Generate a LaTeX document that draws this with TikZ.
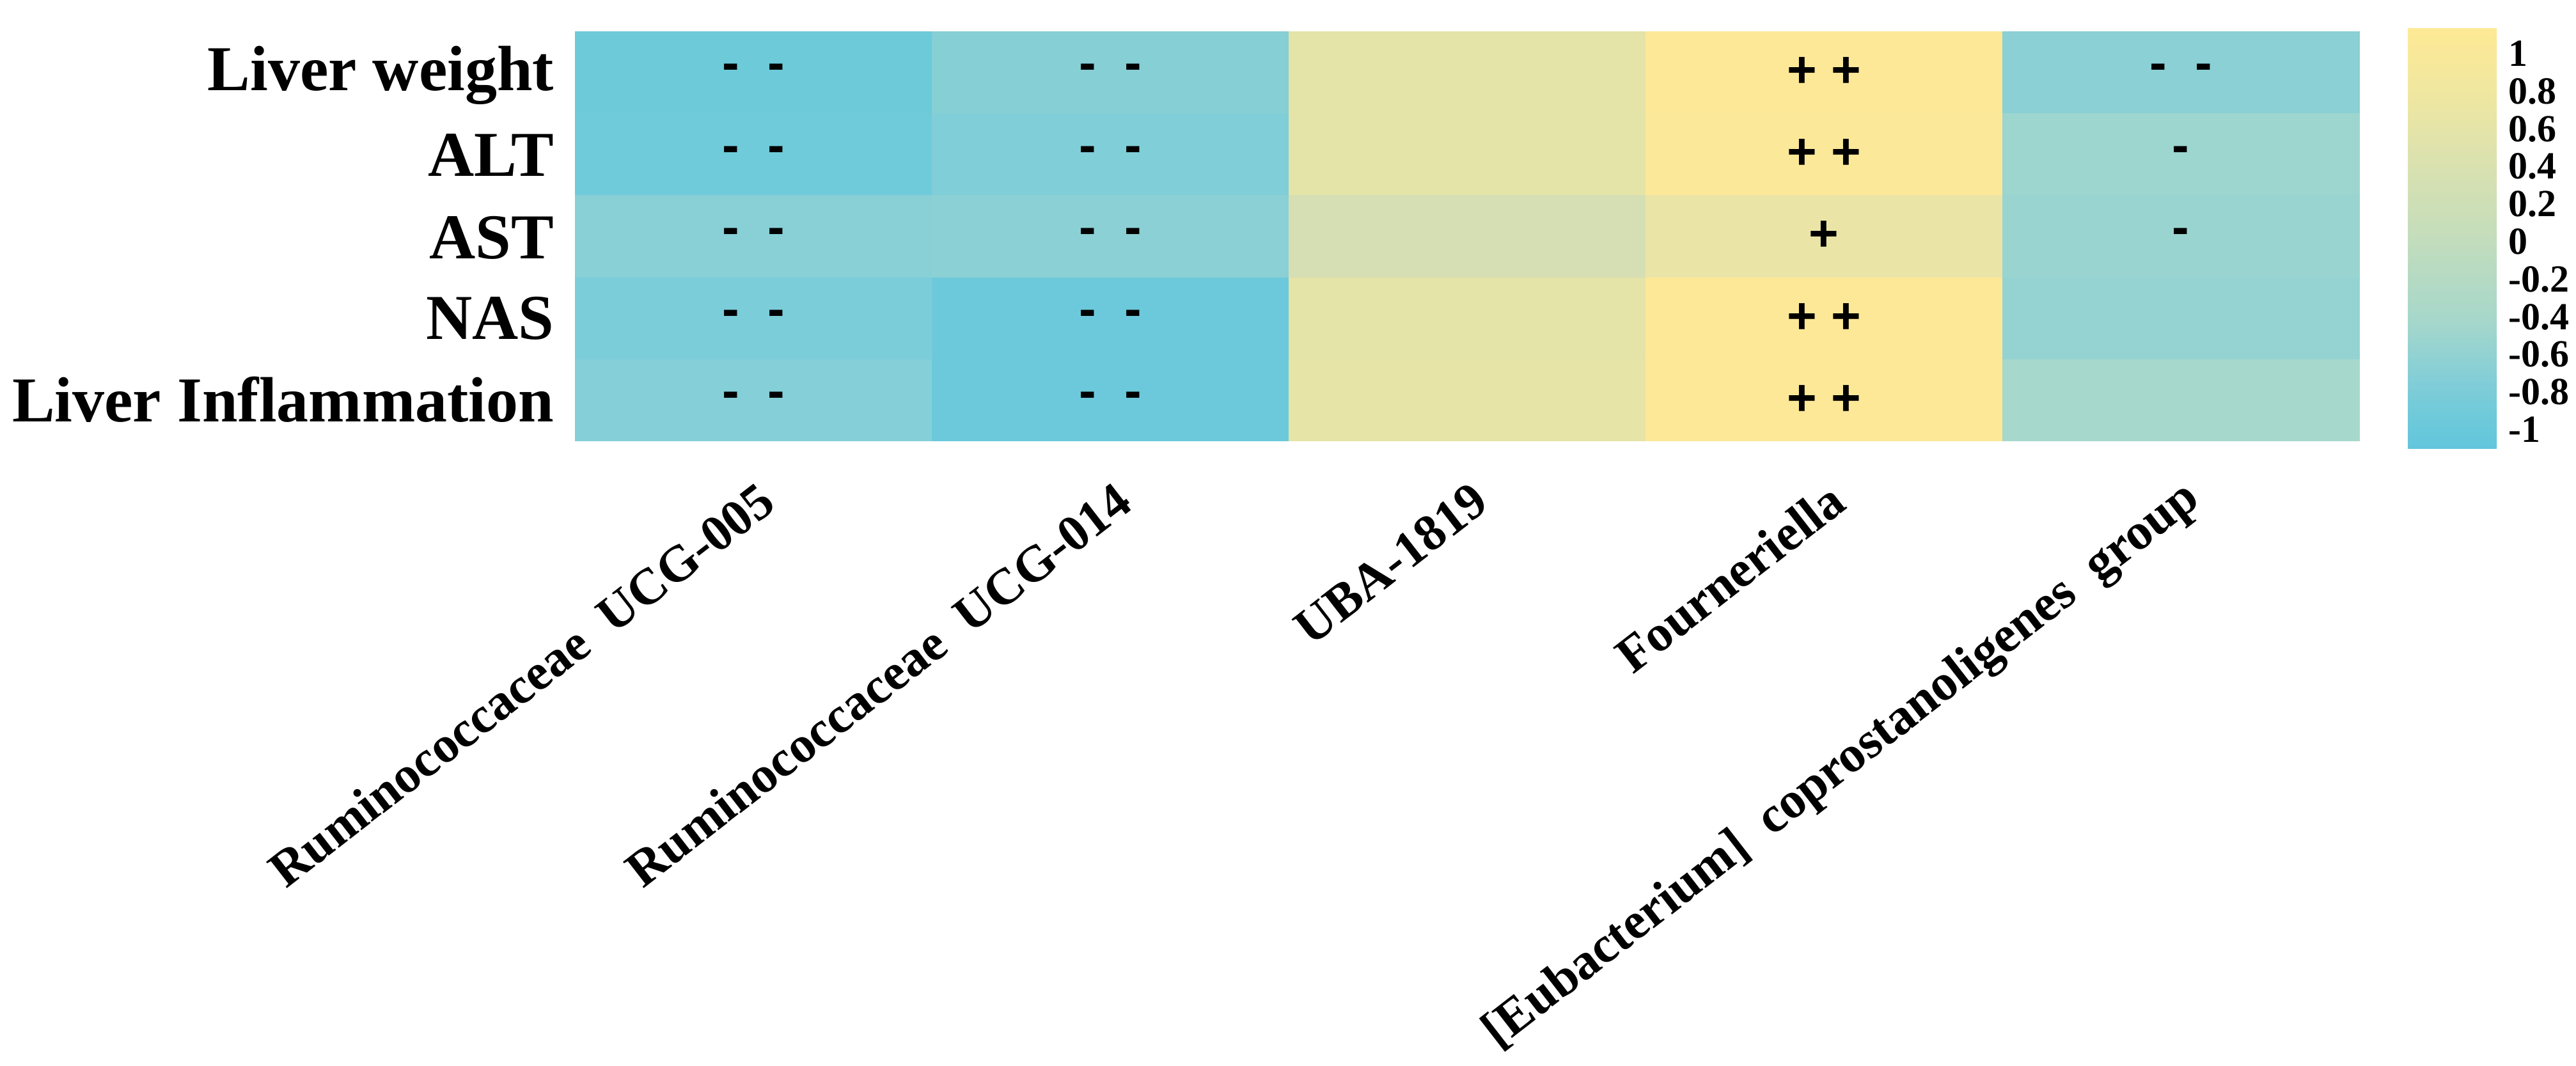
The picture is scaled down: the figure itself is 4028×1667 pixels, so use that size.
\documentclass[tikz,border=0pt]{standalone}
\usepackage{fontspec}
\setmainfont{Liberation Serif}
\newfontfamily\sgnfont{Liberation Sans}
\definecolor{a1}{HTML}{6CCAD9}\definecolor{a2}{HTML}{6FCBDA}\definecolor{a3}{HTML}{88CFD6}\definecolor{a4}{HTML}{7CCDDA}\definecolor{a5}{HTML}{84CFD8}
\definecolor{b1}{HTML}{86CFD5}\definecolor{b2}{HTML}{80CED7}\definecolor{b3}{HTML}{8BD0D4}\definecolor{b4}{HTML}{6CC9DB}\definecolor{b5}{HTML}{6CC9DB}
\definecolor{c1}{HTML}{E4E3A8}\definecolor{c2}{HTML}{E4E3A8}\definecolor{c3}{HTML}{D6DEB4}\definecolor{c4}{HTML}{E4E3A8}\definecolor{c5}{HTML}{E6E4A6}
\definecolor{d1}{HTML}{FDE897}\definecolor{d2}{HTML}{FBE898}\definecolor{d3}{HTML}{EAE4A6}\definecolor{d4}{HTML}{FDE897}\definecolor{d5}{HTML}{FDE897}
\definecolor{e1}{HTML}{8AD0D5}\definecolor{e2}{HTML}{9DD5CF}\definecolor{e3}{HTML}{9AD4D0}\definecolor{e4}{HTML}{95D3D2}\definecolor{e5}{HTML}{A6D8CB}
\definecolor{L0}{HTML}{FEE995}\definecolor{L1}{HTML}{F0E7A0}\definecolor{L2}{HTML}{DDE2AD}\definecolor{L3}{HTML}{C3DDBC}
\definecolor{L4}{HTML}{A5D7CB}\definecolor{L5}{HTML}{80CDD8}\definecolor{L6}{HTML}{6ECAD9}\definecolor{L7}{HTML}{62C6DD}
\begin{document}
\begin{tikzpicture}[x=0.25pt,y=-0.25pt,
  rowlab/.style={anchor=east,font=\fontsize{25}{28}\selectfont\bfseries,inner sep=0pt},
  collab/.style={anchor=east,rotate=37.8,font=\fontsize{20}{23}\selectfont\bfseries,inner sep=0pt},
  sgn/.style={font=\sgnfont\fontsize{20}{22}\selectfont\bfseries,inner sep=0pt},
  leglab/.style={anchor=west,font=\fontsize{15}{17}\selectfont\bfseries,inner sep=0pt}]
\useasboundingbox (0,0) rectangle (4028,1667);
\foreach \c [count=\i from 0] in {a,b,c,d,e}{
  \foreach \r in {1,...,5}{
    \fill[\c\r] ({899+558*\i},{49+128.2*(\r-1)}) rectangle ({899+558*(\i+1)+0.5},{49+128.2*\r+0.5});
    \node[inner sep=0pt,minimum width=0pt] (cell\c\r) at ({899+558*\i+279},{49+128.2*(\r-0.5)}) {};
  }
}
\node[rowlab] (r1) at (867,118) {Liver weight};
\node[rowlab] (r2) at (867,243) {ALT};
\node[rowlab] (r3) at (867,372) {AST};
\node[rowlab] (r4) at (867,498) {NAS};
\node[rowlab] (r5) at (867,625) {Liver Inflammation};
\foreach \c in {a,b}{\foreach \r in {1,...,5}{\node[sgn] at (cell\c\r) {-\ \ -};}}
\node[sgn] at (celld1) {+\ +};
\node[sgn] at (celld2) {+\ +};
\node[sgn] at (celld3) {+};
\node[sgn] at (celld4) {+\ +};
\node[sgn] at (celld5) {+\ +};
\node[sgn] at (celle1) {-\ \ -};
\node[sgn] at (celle2) {-};
\node[sgn] at (celle3) {-};
\node[collab] (k1) at (1200,772) {Ruminococcaceae\ \ UCG-005};
\node[collab] (k2) at (1758,772) {Ruminococcaceae\ \ UCG-014};
\node[collab] (k3) at (2316,772) {UBA-1819};
\node[collab] (k4) at (2874,772) {Fourneriella};
\node[collab] (k5) at (3432,772) {[Eubacterium]\ \ coprostanoligenes\ \ group};
\node[inner sep=0pt,minimum width=0pt] (leg) at (3834.5,373) {};
\foreach \a/\b/\ya/\yb in {L0/L1/45/143,L1/L2/143/240,L2/L3/240/373,L3/L4/373/504,L4/L5/504/600,L5/L6/600/650,L6/L7/650/701}{
  \shade[top color=\a,bottom color=\b] (3765,\ya) rectangle (3904,\yb+0.8);
}
\foreach \v [count=\k from 0] in {1,0.8,0.6,0.4,0.2,0,-0.2,-0.4,-0.6,-0.8,-1}{
  \node[leglab] (t\k) at (3922,{84+58.8*\k}) {\v};
}
\end{tikzpicture}
\end{document}
